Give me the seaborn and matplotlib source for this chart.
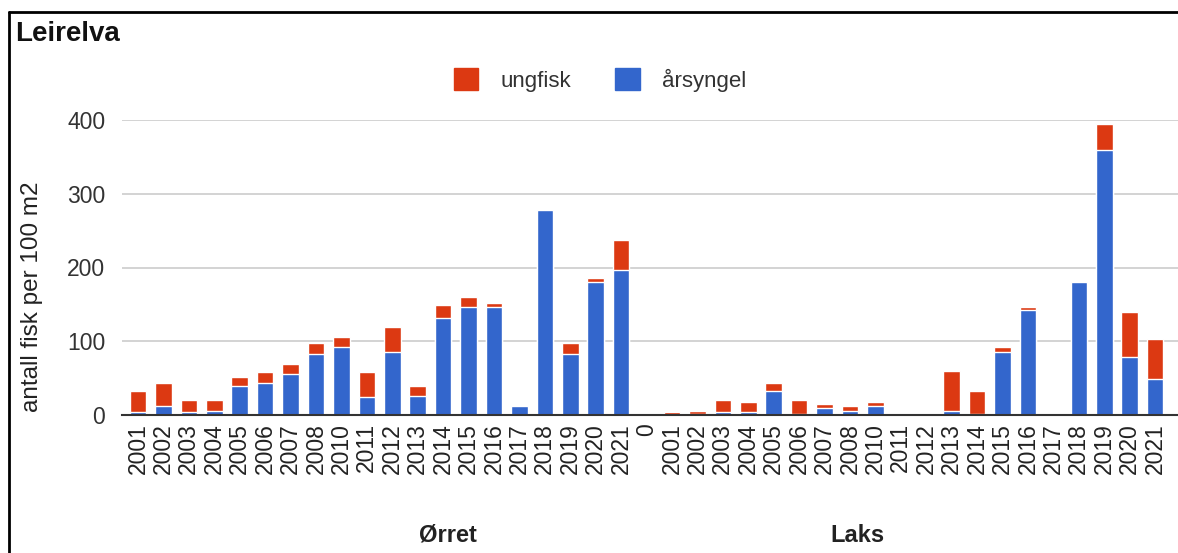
import numpy as np
import matplotlib
matplotlib.use("Agg")
import matplotlib.pyplot as plt
import matplotlib.transforms as mtransforms
from matplotlib.patches import Patch
from matplotlib.lines import Line2D
import seaborn as sns
import pandas as pd

# data
orret_years = ['2001', '2002', '2003', '2004', '2005', '2006', '2007', '2008', '2010', '2011',
               '2012', '2013', '2014', '2015', '2016', '2017', '2018', '2019', '2020', '2021']
orret_arsyngel = [4, 12, 4, 6, 40, 43, 55, 83, 92, 24, 86, 26, 132, 146, 146, 12, 278, 83, 180, 197]
orret_ungfisk = [28, 31, 17, 14, 12, 15, 14, 15, 14, 34, 34, 14, 17, 14, 6, 0, 0, 15, 6, 40]

laks_years = ['2001', '2002', '2003', '2004', '2005', '2006', '2007', '2008', '2010', '2011',
              '2012', '2013', '2014', '2015', '2016', '2017', '2018', '2019', '2020', '2021']
laks_arsyngel = [0, 1, 4, 4, 32, 1, 9.5, 6, 12, 0, 1, 6, 1, 86, 143, 1, 180, 360, 78, 49]
laks_ungfisk = [3.5, 5, 17, 14, 11, 19.5, 5.5, 6, 6, 1.5, 0, 54, 31, 6, 3, 0, 0, 34, 62, 54]

RED = '#DC3912'
BLUE = '#3366CC'

labels = orret_years + ['0'] + laks_years
keys = ['O' + y for y in orret_years] + ['sep'] + ['L' + y for y in laks_years]
ars = orret_arsyngel + [0] + laks_arsyngel
ung = orret_ungfisk + [0] + laks_ungfisk

df = pd.DataFrame({'key': keys, 'label': labels, 'arsyngel': ars, 'ungfisk': ung})
df['total'] = df['arsyngel'] + df['ungfisk']

sns.set_theme(style="white")
plt.rcParams['font.family'] = ['Liberation Sans', 'DejaVu Sans']

fig = plt.figure(figsize=(11.78, 5.53), dpi=100)
ax = fig.add_axes([122 / 1178, 1 - 415 / 553, 1 - 122 / 1178, (415 - 120) / 553])

sns.barplot(data=df, x='key', y='total', order=keys, color=RED, width=0.65,
            saturation=1, ax=ax, zorder=3)
sns.barplot(data=df, x='key', y='arsyngel', order=keys, color=BLUE, width=0.65,
            saturation=1, ax=ax, zorder=4)

ax.set_ylim(0, 400)
ax.set_xlim(-0.63, 40.9)
ax.set_yticks([0, 100, 200, 300, 400])
ax.set_yticklabels(['0', '100', '200', '300', '400'], fontsize=16.5, color='#333333')
ax.set_xticks(range(len(labels)))
ax.set_xticklabels(labels, rotation=90, fontsize=16.5, color='#222222')
ax.tick_params(axis='both', length=0)
ax.tick_params(axis='y', pad=12)
ax.tick_params(axis='x', pad=6)
ax.set_xlabel('')
ax.set_ylabel('antall fisk per 100 m2', fontsize=17.5, color='#222222')
ax.yaxis.set_label_coords(-0.075, 0.40)
ax.yaxis.grid(True, color='#cccccc', linewidth=1.2, zorder=0)
ax.set_axisbelow(True)
for s in ['top', 'right', 'left']:
    ax.spines[s].set_visible(False)
ax.spines['bottom'].set_color('#333333')
ax.spines['bottom'].set_linewidth(1.5)
ax.spines['bottom'].set_zorder(5)

# group labels under the axis
trans = mtransforms.blended_transform_factory(ax.transData, fig.transFigure)
ax.text(12.2, 1 - 535 / 553, 'Ørret', transform=trans, ha='center', va='center',
        fontsize=17, fontweight='bold', color='#222222')
ax.text(28.3, 1 - 536 / 553, 'Laks', transform=trans, ha='center', va='center',
        fontsize=17, fontweight='bold', color='#222222')

# title and legend
fig.text(15 / 1178, 1 - 34 / 553, 'Leirelva', ha='left', va='center',
         fontsize=20, fontweight='bold', color='#111111')
handles = [Patch(facecolor=RED, edgecolor=RED, label='ungfisk'),
           Patch(facecolor=BLUE, edgecolor=BLUE, label='årsyngel')]
fig.legend(handles=handles, loc='center', bbox_to_anchor=(600 / 1178, 1 - 80 / 553),
           ncol=2, frameon=False, fontsize=16, handlelength=1.1, handleheight=1.1,
           columnspacing=2.0, handletextpad=1.0, labelcolor='#333333')

# screenshot frame on top and left
fig.add_artist(Line2D([9 / 1178, 9 / 1178], [0, 1 - 12 / 553], color='black', lw=2,
                      transform=fig.transFigure))
fig.add_artist(Line2D([9 / 1178, 1], [1 - 12 / 553, 1 - 12 / 553], color='black', lw=2,
                      transform=fig.transFigure))

fig.savefig('out.png', dpi=100, facecolor='white')
